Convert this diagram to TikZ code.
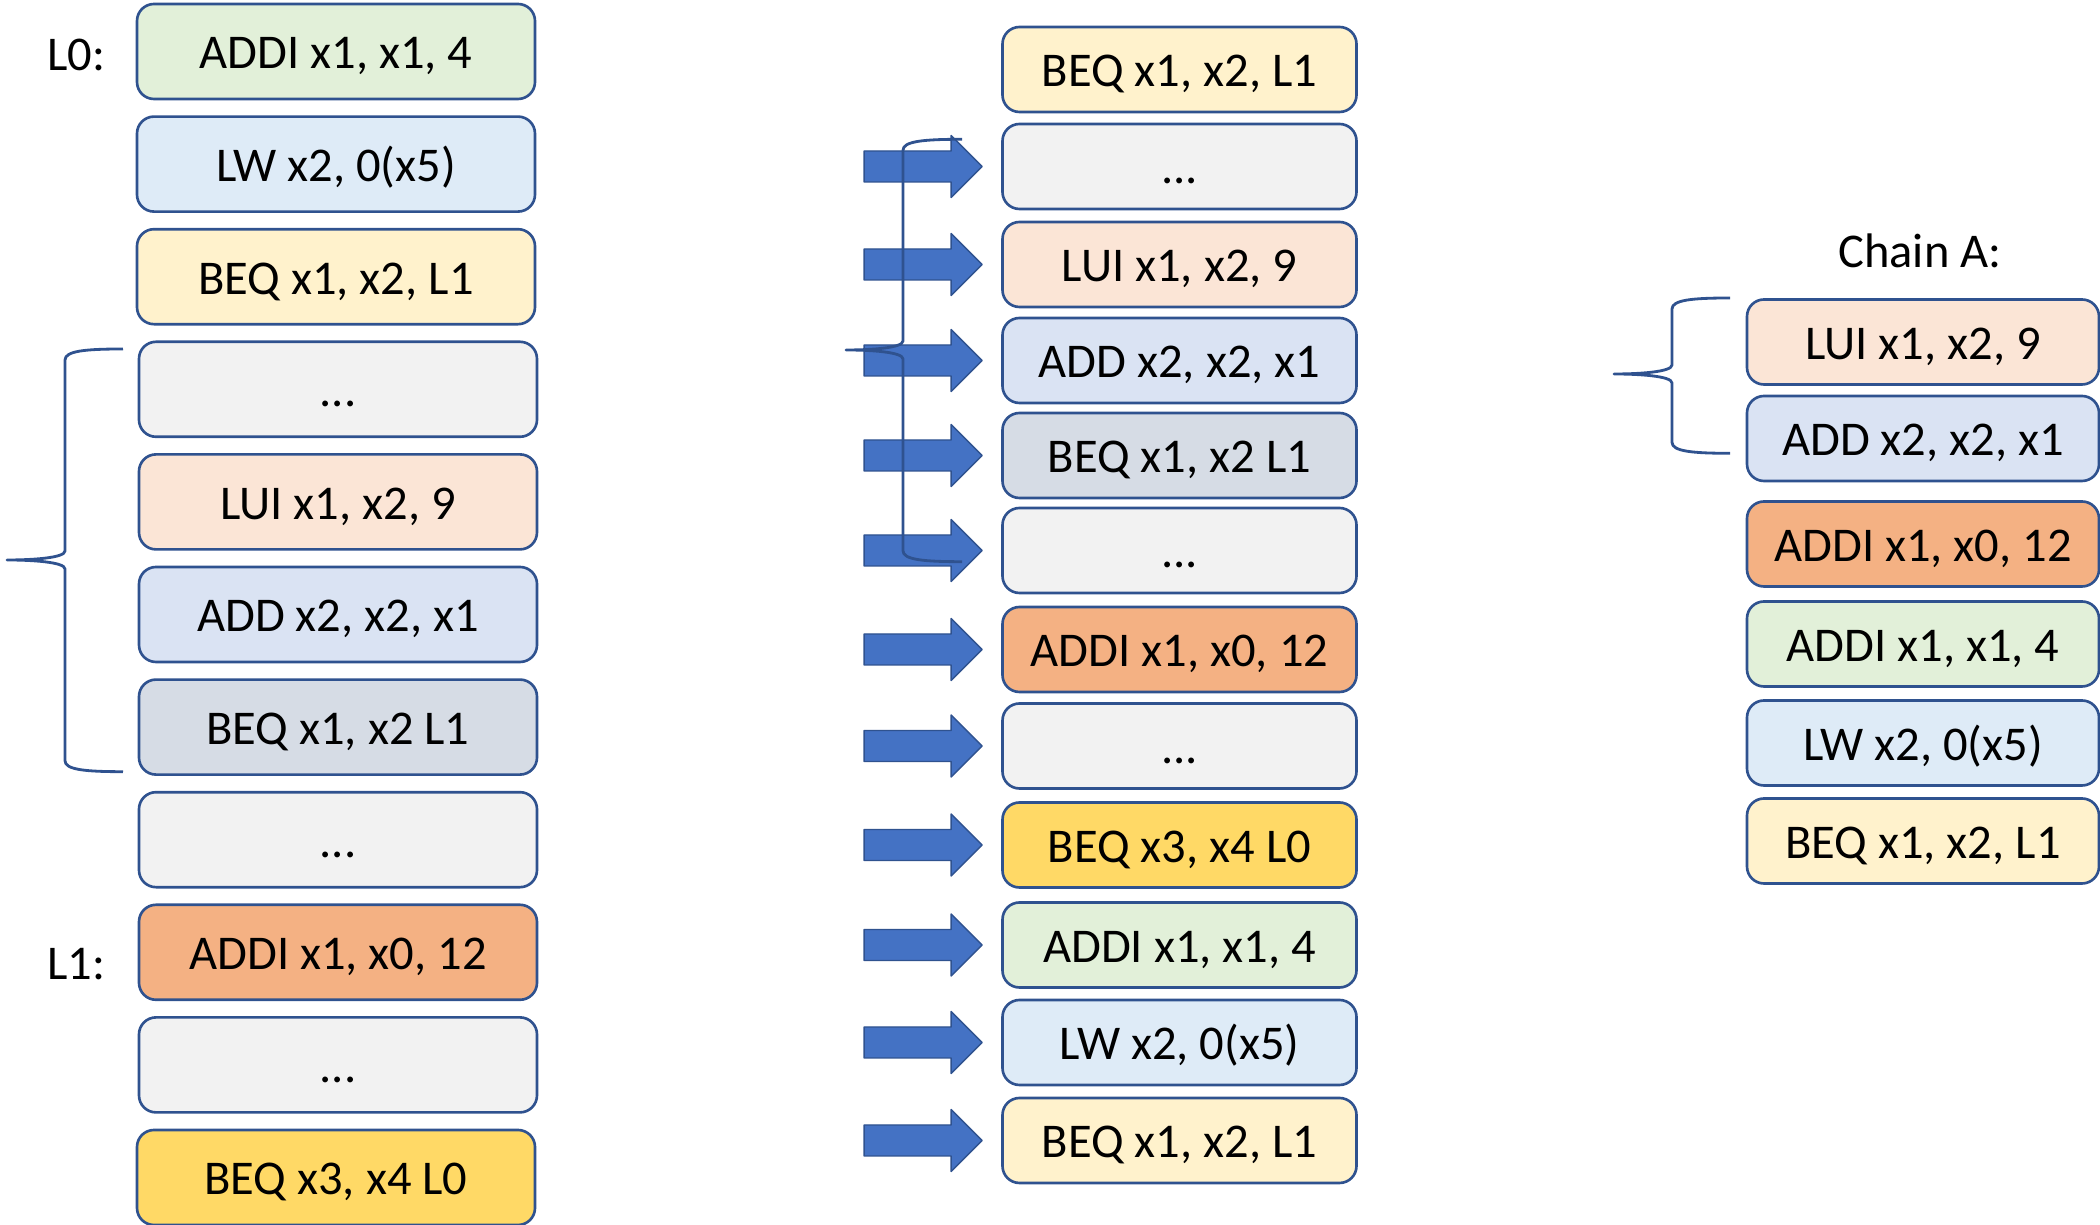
\documentclass[tikz,border=0pt]{standalone}
\usepackage{fontspec}
\setmainfont{Carlito}
\usepackage{tikz}
\usetikzlibrary{calc}

\definecolor{edgeblue}{HTML}{2F528F}
\definecolor{arrowblue}{HTML}{4472C4}
\definecolor{cGreen}{HTML}{E2F0D9}
\definecolor{cSky}{HTML}{DEEBF7}
\definecolor{cCream}{HTML}{FFF2CC}
\definecolor{cGrey}{HTML}{F2F2F2}
\definecolor{cPeach}{HTML}{FBE5D6}
\definecolor{cLav}{HTML}{DAE3F3}
\definecolor{cSlate}{HTML}{D6DCE5}
\definecolor{cOrange}{HTML}{F4B183}
\definecolor{cGold}{HTML}{FFD966}

% curly brace: end x, spine x, tip x, top y, tip y, bottom y
\newcommand{\chainbrace}[6]{%
  \draw[bracel] (#1,#4) .. controls ({#2+0.2},#4) and (#2,{#4-0.02}) .. (#2,{#4-0.11})
    -- (#2,{#5+0.09}) .. controls (#2,{#5+0.02}) and ({#3+0.25},#5) .. (#3,#5)
    .. controls ({#3+0.25},#5) and (#2,{#5-0.02}) .. (#2,{#5-0.09})
    -- (#2,{#6+0.11}) .. controls (#2,{#6+0.02}) and ({#2+0.2},#6) .. (#1,#6);}

\begin{document}
\begin{tikzpicture}[line join=round,
  instr/.style={draw=edgeblue, line width=0.75pt, rounded corners=0.17cm,
    inner sep=0pt, text height=0.35cm, text depth=0pt,
    font=\fontsize{13.8}{17}\selectfont},
  lcol/.style={instr, minimum width=3.98cm, minimum height=0.95cm},
  mcol/.style={instr, minimum width=3.54cm, minimum height=0.85cm},
  rcol/.style={instr, minimum width=3.52cm, minimum height=0.85cm},
  tag/.style={inner sep=0pt, text height=0.35cm, text depth=0pt,
    font=\fontsize{13.8}{17}\selectfont},
  blockarrow/.style={fill=arrowblue, draw=edgeblue, line width=0.4pt},
  bracel/.style={draw=edgeblue, line width=0.8pt}]
\useasboundingbox (0,0) rectangle (21,-12.25);

% program listing
\foreach \i/\x/\y/\c/\t in {1/3.36/0.515/cGreen/{ADDI x1, x1, 4},
    2/3.36/1.641/cSky/{LW x2, 0(x5)},
    3/3.36/2.767/cCream/{BEQ x1, x2, L1},
    4/3.38/3.893/cGrey/{...},
    5/3.38/5.019/cPeach/{LUI x1, x2, 9},
    6/3.38/6.145/cLav/{ADD x2, x2, x1},
    7/3.38/7.271/cSlate/{BEQ x1, x2 L1},
    8/3.38/8.397/cGrey/{...},
    9/3.38/9.523/cOrange/{ADDI x1, x0, 12},
    10/3.38/10.649/cGrey/{...},
    11/3.36/11.775/cGold/{BEQ x3, x4 L0}}
  \node[lcol, fill=\c] (l\i) at (\x,-\y) {\t};
\node[tag, anchor=east] (lab0) at (1.06,-0.53) {L0:};
\node[tag, anchor=east] (lab1) at (1.06,-9.62) {L1:};
\chainbrace{1.23}{0.65}{0.07}{-3.49}{-5.60}{-7.717}

% executed trace
\foreach \i/\y/\c/\t in {1/0.695/cCream/{BEQ x1, x2, L1},
    2/1.665/cGrey/{...},
    3/2.645/cPeach/{LUI x1, x2, 9},
    4/3.605/cLav/{ADD x2, x2, x1},
    5/4.555/cSlate/{BEQ x1, x2 L1},
    6/5.505/cGrey/{...},
    7/6.495/cOrange/{ADDI x1, x0, 12},
    8/7.46/cGrey/{...},
    9/8.45/cGold/{BEQ x3, x4 L0},
    10/9.45/cGreen/{ADDI x1, x1, 4},
    11/10.425/cSky/{LW x2, 0(x5)},
    12/11.405/cCream/{BEQ x1, x2, L1}}
  \node[mcol, fill=\c] (m\i) at (11.795,-\y) {\t};
\foreach \i in {2,...,12}
  \draw[blockarrow] ($(m\i.west)+(-1.37,0.155)$) -- ($(m\i.west)+(-0.50,0.155)$)
    -- ($(m\i.west)+(-0.50,0.31)$) -- ($(m\i.west)+(-0.19,0)$)
    -- ($(m\i.west)+(-0.50,-0.31)$) -- ($(m\i.west)+(-0.50,-0.155)$)
    -- ($(m\i.west)+(-1.37,-0.155)$) -- cycle;
\chainbrace{9.62}{9.03}{8.46}{-1.393}{-3.50}{-5.617}

% chain A
\node[tag] (chain) at (19.20,-2.50) {Chain A:};
\foreach \i/\y/\c/\t in {1/3.42/cPeach/{LUI x1, x2, 9},
    2/4.385/cLav/{ADD x2, x2, x1},
    3/5.44/cOrange/{ADDI x1, x0, 12},
    4/6.44/cGreen/{ADDI x1, x1, 4},
    5/7.43/cSky/{LW x2, 0(x5)},
    6/8.41/cCream/{BEQ x1, x2, L1}}
  \node[rcol, fill=\c] (r\i) at (19.23,-\y) {\t};
\chainbrace{17.30}{16.72}{16.14}{-2.98}{-3.74}{-4.533}
\end{tikzpicture}
\end{document}
